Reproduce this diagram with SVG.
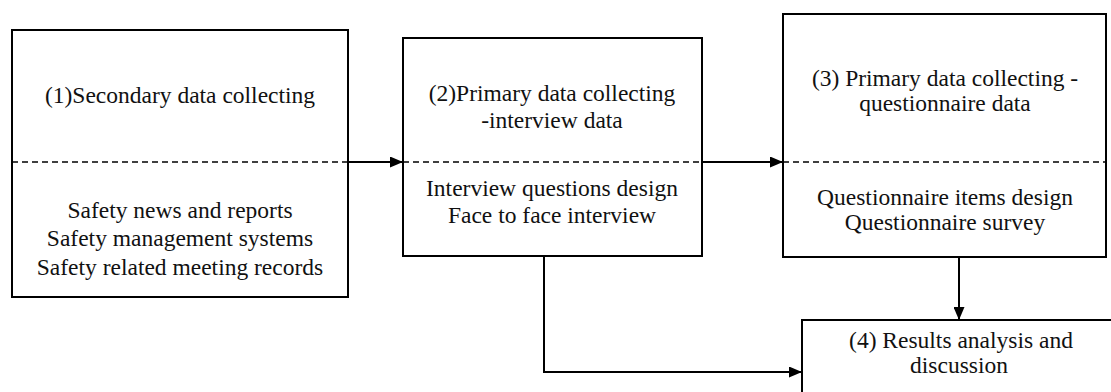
<svg xmlns="http://www.w3.org/2000/svg" width="1111" height="392" viewBox="0 0 1111 392">
<style>
.box{fill:#fff;stroke:#000;stroke-width:2}
.dash{stroke:#000;stroke-width:1.5;stroke-dasharray:6,4;fill:none}
.t{font-family:"Liberation Serif","Times New Roman",serif;font-size:23.5px;fill:#111;text-anchor:middle;dominant-baseline:central}
.c{stroke:#000;stroke-width:2;fill:none}
</style>
<defs>
<marker id="ah" viewBox="0 0 13 11" refX="13" refY="5.5" markerWidth="13" markerHeight="11" markerUnits="userSpaceOnUse" orient="auto">
<path d="M0,0 L13,5.5 L0,11 Z" fill="#000"/>
</marker>
</defs>
<rect width="1111" height="392" fill="#fff"/>
<g id="node1">
<rect class="box" x="12" y="30" width="336" height="267"/>
<line class="dash" x1="12" y1="162" x2="348" y2="162"/>
<text class="t" x="180" y="95">(1)Secondary data collecting</text>
<text class="t" x="180" y="210">Safety news and reports</text>
<text class="t" x="180" y="238">Safety management systems</text>
<text class="t" x="180" y="267">Safety related meeting records</text>
</g>
<g id="node2">
<rect class="box" x="403" y="38" width="299" height="218"/>
<line class="dash" x1="403" y1="162" x2="702" y2="162"/>
<text class="t" x="552" y="93">(2)Primary data collecting</text>
<text class="t" x="552" y="120">-interview data</text>
<text class="t" x="552" y="188">Interview questions design</text>
<text class="t" x="552" y="215">Face to face interview</text>
</g>
<g id="node3">
<rect class="box" x="783" y="14" width="323" height="243"/>
<line class="dash" x1="783" y1="162" x2="1106" y2="162"/>
<text class="t" x="945" y="78">(3) Primary data collecting -</text>
<text class="t" x="945" y="103">questionnaire data</text>
<text class="t" x="945" y="197">Questionnaire items design</text>
<text class="t" x="945" y="222">Questionnaire survey</text>
</g>
<g id="node4">
<rect class="box" x="802" y="320" width="320" height="80"/>
<text class="t" x="961" y="340">(4) Results analysis and</text>
<text class="t" x="959" y="365">discussion</text>
</g>
<g id="connectors">
<line class="c" x1="349" y1="162" x2="403" y2="162" marker-end="url(#ah)"/>
<line class="c" x1="703" y1="162" x2="783" y2="162" marker-end="url(#ah)"/>
<line class="c" x1="959" y1="258" x2="959" y2="320" marker-end="url(#ah)"/>
<polyline class="c" points="544,257 544,372 802,372" marker-end="url(#ah)"/>
</g>
</svg>
